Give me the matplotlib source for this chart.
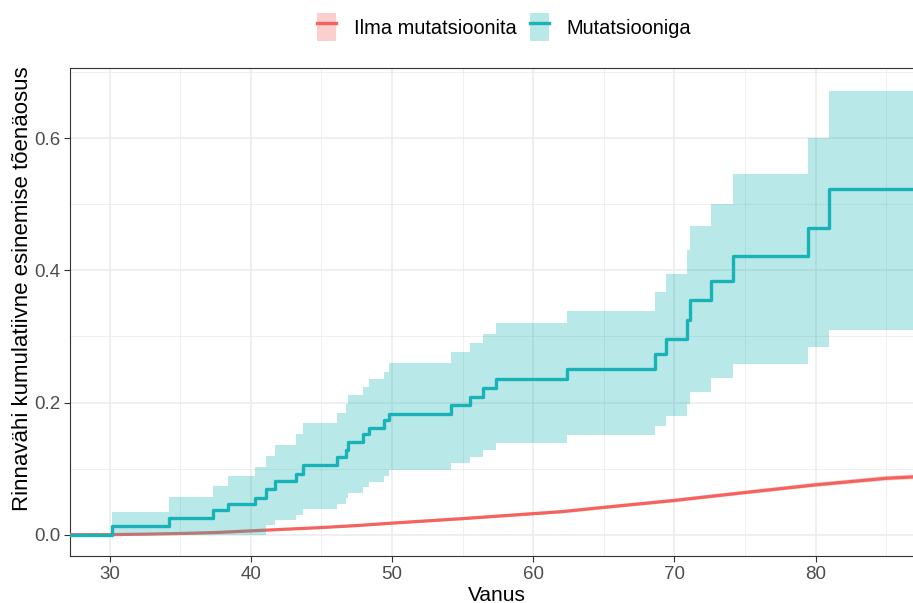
import numpy as np
import matplotlib
matplotlib.use("Agg")
import matplotlib.pyplot as plt
from matplotlib.patches import Patch
from matplotlib.lines import Line2D
from matplotlib.ticker import MultipleLocator, FormatStrFormatter

plt.rcParams['font.family'] = ['Liberation Sans', 'DejaVu Sans']

# Mutatsiooniga: Kaplan-Meier type step curve (event ages, cumulative probability, CI)
mut_age = [20, 30.15, 34.2, 37.3, 38.4, 40.3, 41.05, 41.75, 43.2, 43.7, 46.1, 46.75, 46.9,
           47.95, 48.35, 49.45, 49.8, 54.2, 55.5, 56.45, 57.4, 62.38, 68.65, 69.4, 70.92,
           71.1, 72.57, 74.15, 79.45, 80.93, 90]
mut_est = [0, 0.0135, 0.026, 0.0378, 0.047, 0.056, 0.069, 0.082, 0.092, 0.106, 0.118, 0.129,
           0.141, 0.152, 0.162, 0.173, 0.183, 0.197, 0.209, 0.222, 0.236, 0.251, 0.274, 0.296,
           0.325, 0.355, 0.384, 0.421, 0.4645, 0.5235, 0.5235]
mut_upper = [0, 0.035, 0.057, 0.074, 0.089, 0.102, 0.119, 0.136, 0.152, 0.169, 0.184, 0.198,
             0.2115, 0.224, 0.235, 0.247, 0.26, 0.276, 0.29, 0.304, 0.32, 0.339, 0.367, 0.394,
             0.431, 0.4675, 0.501, 0.545, 0.5997, 0.671, 0.671]
mut_lower = [0, 0, 0, 0, 0, 0, 0.015, 0.0227, 0.030, 0.039, 0.047, 0.0555, 0.064, 0.072,
             0.0806, 0.089, 0.098, 0.108, 0.117, 0.1285, 0.1395, 0.151, 0.165, 0.180, 0.1975,
             0.2155, 0.237, 0.2585, 0.284, 0.31, 0.31]

# Ilma mutatsioonita: many events, nearly smooth curve
ilma_age = [20, 30, 32.5, 35, 37.5, 40, 42.5, 45, 47.5, 50, 55, 60, 62, 65, 70, 75, 80, 85, 90]
ilma_est = [0, 0.0003, 0.001, 0.002, 0.0035, 0.006, 0.0085, 0.011, 0.014, 0.0177, 0.0245,
            0.032, 0.035, 0.0415, 0.052, 0.064, 0.0756, 0.0855, 0.091]
ilma_ci = [0, 0.0002, 0.0005, 0.0008, 0.001, 0.0012, 0.0014, 0.0016, 0.0018, 0.002, 0.0022,
           0.0024, 0.0025, 0.0026, 0.0028, 0.003, 0.0032, 0.0035, 0.0037]

teal = '#17B3B7'
red = '#F4635D'

fig = plt.figure(figsize=(9.13, 6.03), dpi=100)
ax = fig.add_axes([70 / 913, 47 / 603, 843 / 913, 488 / 603])

ilma_lo = np.array(ilma_est) - np.array(ilma_ci)
ilma_hi = np.array(ilma_est) + np.array(ilma_ci)
ax.fill_between(ilma_age, ilma_lo, ilma_hi, color=red, alpha=0.3, lw=0, zorder=3)
ax.plot(ilma_age, ilma_est, color=red, lw=2.3, zorder=4, solid_capstyle='butt')
ax.fill_between(mut_age, mut_lower, mut_upper, step='post', color=teal, alpha=0.3, lw=0, zorder=5)
ax.plot(mut_age, mut_est, drawstyle='steps-post', color=teal, lw=2.4, zorder=6)

ax.set_xlim(27.2, 86.9)
ax.set_ylim(-0.032, 0.706)
ax.xaxis.set_major_locator(MultipleLocator(10))
ax.xaxis.set_minor_locator(MultipleLocator(5))
ax.yaxis.set_major_locator(MultipleLocator(0.2))
ax.yaxis.set_minor_locator(MultipleLocator(0.1))
ax.yaxis.set_major_formatter(FormatStrFormatter('%.1f'))

ax.grid(which='major', color='#EBEBEB', lw=1.1, zorder=0)
ax.grid(which='minor', color='#EBEBEB', lw=0.55, zorder=0)
ax.set_axisbelow(True)

for side in ['left', 'bottom', 'top']:
    ax.spines[side].set_color('#333333')
    ax.spines[side].set_linewidth(0.8)
ax.spines['right'].set_visible(False)
ax.tick_params(which='major', length=4.5, width=0.8, color='#333333',
               labelsize=13.5, labelcolor='#4D4D4D', pad=2.5)
ax.tick_params(which='minor', length=0)

ax.set_xlabel('Vanus', fontsize=15, color='black', va='center')
ax.xaxis.set_label_coords(0.5065, -0.08)
ax.set_ylabel('Rinnavähi kumulatiivne esinemise tõenäosus', fontsize=16, color='black', va='center')
ax.yaxis.set_label_coords(-0.056, 0.547)

handles = [(Patch(facecolor=red, alpha=0.3, lw=0), Line2D([], [], color=red, lw=2.4)),
           (Patch(facecolor=teal, alpha=0.3, lw=0), Line2D([], [], color=teal, lw=2.4))]
fig.legend(handles, ['Ilma mutatsioonita', 'Mutatsiooniga'], loc='center',
           bbox_to_anchor=(0.552, 0.955), ncol=2, frameon=False, fontsize=14.4,
           handlelength=0.95, handleheight=1.75, handletextpad=0.9, columnspacing=0.65)

fig.savefig('out.png', dpi=100)
